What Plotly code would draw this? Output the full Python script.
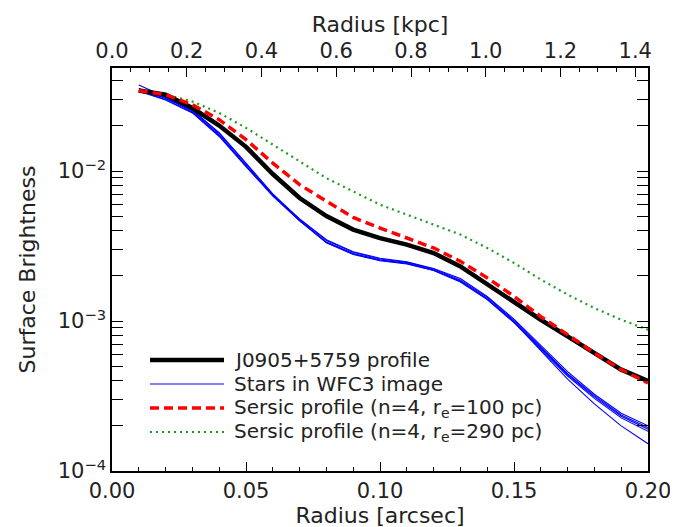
import plotly.graph_objects as go

# ---------------- data ----------------
radius_arcsec = [0.01, 0.02, 0.03, 0.04, 0.05, 0.06, 0.07, 0.08, 0.09, 0.10,
                 0.11, 0.12, 0.13, 0.14, 0.15, 0.16, 0.17, 0.18, 0.19, 0.20]

kpc_per_arcsec = 7.17

galaxy_profile = [0.0344, 0.0323, 0.0263, 0.0201, 0.0145, 0.00955, 0.00661, 0.00501, 0.00407, 0.00357,
                  0.00323, 0.00284, 0.00231, 0.00175, 0.00132, 0.00102, 0.000791, 0.000612, 0.000474, 0.000398]

sersic_100pc = [0.0344, 0.0323, 0.0277, 0.0220, 0.0162, 0.0113, 0.00811, 0.00628, 0.00490, 0.00417,
                0.00357, 0.00307, 0.00250, 0.00194, 0.00146, 0.00107, 0.000811, 0.000612, 0.000474, 0.000386]

sersic_290pc = [0.0344, 0.0323, 0.0291, 0.0244, 0.0194, 0.0150, 0.0116, 0.00897, 0.00731, 0.00597,
                0.00512, 0.00439, 0.00377, 0.00307, 0.00244, 0.00189, 0.00150, 0.00122, 0.00102, 0.000875]

star_1 = [0.0375, 0.0312, 0.0248, 0.0172, 0.0108, 0.00690, 0.00480, 0.00348, 0.00290, 0.00262,
          0.00248, 0.00224, 0.00192, 0.00146, 0.00103, 0.000690, 0.000460, 0.000325, 0.000243, 0.000200]
star_2 = [0.0355, 0.0305, 0.0252, 0.0178, 0.0112, 0.00700, 0.00470, 0.00336, 0.00282, 0.00255,
          0.00243, 0.00219, 0.00184, 0.00140, 0.000990, 0.000660, 0.000440, 0.000312, 0.000232, 0.000190]
star_3 = [0.0345, 0.0300, 0.0246, 0.0174, 0.0109, 0.00688, 0.00468, 0.00332, 0.00278, 0.00252,
          0.00240, 0.00217, 0.00182, 0.00139, 0.000975, 0.000650, 0.000430, 0.000305, 0.000226, 0.000184]
star_4 = [0.0338, 0.0309, 0.0255, 0.0180, 0.0113, 0.00705, 0.00478, 0.00344, 0.00287, 0.00259,
          0.00246, 0.00222, 0.00188, 0.00144, 0.00101, 0.000670, 0.000445, 0.000318, 0.000236, 0.000195]
star_5 = [0.0340, 0.0298, 0.0244, 0.0170, 0.0107, 0.00680, 0.00465, 0.00334, 0.00280, 0.00254,
          0.00242, 0.00218, 0.00185, 0.00141, 0.000985, 0.000640, 0.000410, 0.000280, 0.000200, 0.000152]
stars = [star_1, star_2, star_3, star_4, star_5]

legend_labels = ["J0905+5759 profile",
                 "Stars in WFC3 image",
                 "Sersic profile (n=4, r<sub>e</sub>=100 pc)",
                 "Sersic profile (n=4, r<sub>e</sub>=290 pc)"]

y_major = [1e-4, 1e-3, 1e-2]
y_major_text = ["10<sup>\u22124</sup>", "10<sup>\u22123</sup>", "10<sup>\u22122</sup>"]

# ---------------- styles ----------------
FONT = "DejaVu Sans"
TXT = "#222222"
FS_TICK = 21
FS_TITLE = 22
FS_LEG = 20
BLUE = "#0000ff"
RED = "#ff0000"
GREEN = "#1f9a1f"

fig = go.Figure()

for s in stars:
    fig.add_trace(go.Scatter(x=radius_arcsec, y=s, mode="lines",
                             line=dict(color=BLUE, width=1.1), showlegend=False))
fig.add_trace(go.Scatter(x=radius_arcsec, y=sersic_290pc, mode="lines",
                         line=dict(color=GREEN, width=2.2, dash="2px,4px"), showlegend=False))
fig.add_trace(go.Scatter(x=radius_arcsec, y=galaxy_profile, mode="lines",
                         line=dict(color="black", width=4.5), showlegend=False))
fig.add_trace(go.Scatter(x=radius_arcsec, y=sersic_100pc, mode="lines",
                         line=dict(color=RED, width=3.5, dash="9px,5px"), showlegend=False))

# invisible trace to carry the top (kpc) axis
fig.add_trace(go.Scatter(x=[r * kpc_per_arcsec for r in radius_arcsec], y=galaxy_profile,
                         xaxis="x2", mode="lines", line=dict(color="rgba(0,0,0,0)"),
                         hoverinfo="skip", showlegend=False))

# ---------------- manual legend ----------------
leg_styles = [dict(color="black", width=4.5),
              dict(color=BLUE, width=1.2),
              dict(color=RED, width=3.5, dash="9px,5px"),
              dict(color=GREEN, width=2.2, dash="2px,4px")]
L, R, T, B = 104, 640, 60, 463
W, H = R - L, B - T
rows_px = [352, 376, 400, 424]
for lab, st, py in zip(legend_labels, leg_styles, rows_px):
    yp = (B - py) / H
    fig.add_shape(type="line", xref="paper", yref="paper",
                  x0=(142 - L) / W, x1=(216 - L) / W, y0=yp, y1=yp, line=st)
    fig.add_annotation(xref="paper", yref="paper", x=(224 - L) / W, y=yp,
                       text=lab, showarrow=False, xanchor="left", yanchor="middle",
                       font=dict(family=FONT, size=FS_LEG, color=TXT))

y_minor = []
for dec in [1e-4, 1e-3, 1e-2]:
    for m in range(2, 10):
        y_minor.append(m * dec)

axis_common = dict(showline=True, linecolor="black", linewidth=1.5, showgrid=False,
                   zeroline=False, ticks="inside", tickcolor="black",
                   tickfont=dict(family=FONT, size=FS_TICK, color=TXT))

fig.update_layout(
    width=678, height=527,
    margin=dict(l=L, r=678 - R, t=T, b=527 - B),
    paper_bgcolor="white", plot_bgcolor="white",
    font=dict(family=FONT, size=FS_TICK, color=TXT),
    xaxis=dict(**axis_common, range=[0, 0.2], dtick=0.05, tick0=0, tickformat=".2f",
               ticklen=9, tickwidth=1.2,
               minor=dict(dtick=0.01, tick0=0, ticks="inside", ticklen=4, tickcolor="black", tickwidth=1),
               title=dict(text="Radius [arcsec]", font=dict(family=FONT, size=FS_TITLE, color=TXT), standoff=2)),
    xaxis2=dict(**axis_common, overlaying="x", side="top", anchor="y",
                range=[0, 0.2 * kpc_per_arcsec], dtick=0.2, tick0=0, tickformat=".1f",
                ticklen=9, tickwidth=1.2,
                minor=dict(dtick=0.05, tick0=0, ticks="inside", ticklen=4, tickcolor="black", tickwidth=1),
                title=dict(text="Radius [kpc]", font=dict(family=FONT, size=FS_TITLE, color=TXT), standoff=0)),
    yaxis=dict(**axis_common, type="log", range=[-4, -1.313], mirror="allticks",
               tickmode="array", tickvals=y_major, ticktext=y_major_text,
               ticklen=11, tickwidth=1.2,
               minor=dict(tickmode="array", tickvals=y_minor, ticks="inside", ticklen=6,
                          tickcolor="black", tickwidth=1),
               title=dict(text="Surface Brightness", font=dict(family=FONT, size=FS_TITLE, color=TXT), standoff=16)),
)

fig.write_html("out.html")
